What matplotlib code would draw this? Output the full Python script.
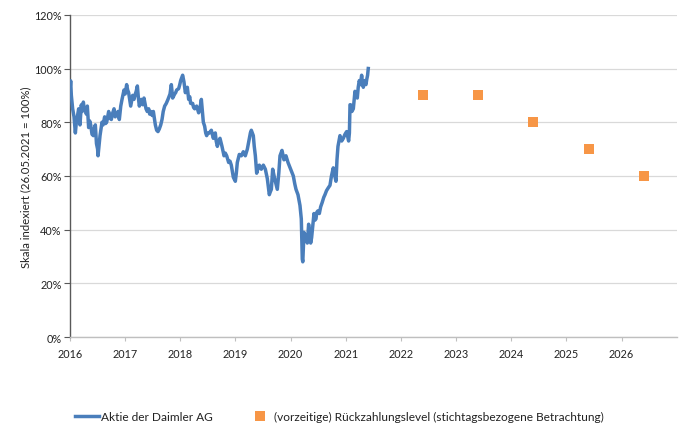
import matplotlib
matplotlib.use("Agg")
import matplotlib.pyplot as plt
from matplotlib.ticker import FuncFormatter

# Daimler share, indexed (26.05.2021 = 100%), decimal years
stock_years = [
    2016.000, 2016.012, 2016.024, 2016.048, 2016.073, 2016.097, 2016.115, 2016.133, 2016.157, 2016.181,
    2016.205, 2016.222, 2016.242, 2016.260, 2016.278, 2016.296, 2016.314, 2016.338, 2016.356, 2016.375,
    2016.399, 2016.423, 2016.440, 2016.459, 2016.480, 2016.500, 2016.508, 2016.525, 2016.544, 2016.580,
    2016.600, 2016.628, 2016.645, 2016.665, 2016.701, 2016.725, 2016.749, 2016.775, 2016.798, 2016.820,
    2016.846, 2016.870, 2016.894, 2016.920, 2016.943, 2016.979, 2017.000, 2017.027, 2017.045, 2017.063,
    2017.100, 2017.118, 2017.136, 2017.160, 2017.184, 2017.200, 2017.221, 2017.240, 2017.257, 2017.275,
    2017.293, 2017.320, 2017.341, 2017.378, 2017.400, 2017.426, 2017.445, 2017.462, 2017.490, 2017.511,
    2017.547, 2017.571, 2017.595, 2017.619, 2017.645, 2017.668, 2017.690, 2017.716, 2017.745, 2017.776,
    2017.813, 2017.837, 2017.861, 2017.897, 2017.915, 2017.934, 2017.970, 2017.990, 2018.006, 2018.042,
    2018.066, 2018.091, 2018.110, 2018.127, 2018.151, 2018.170, 2018.187, 2018.224, 2018.240, 2018.260,
    2018.296, 2018.332, 2018.355, 2018.381, 2018.417, 2018.441, 2018.460, 2018.477, 2018.502, 2018.526,
    2018.562, 2018.580, 2018.598, 2018.634, 2018.650, 2018.671, 2018.695, 2018.719, 2018.755, 2018.792,
    2018.815, 2018.840, 2018.876, 2018.900, 2018.924, 2018.961, 2018.997, 2019.015, 2019.033, 2019.069,
    2019.106, 2019.142, 2019.178, 2019.215, 2019.251, 2019.270, 2019.287, 2019.305, 2019.323, 2019.340,
    2019.360, 2019.384, 2019.410, 2019.432, 2019.468, 2019.505, 2019.541, 2019.577, 2019.595, 2019.613,
    2019.630, 2019.650, 2019.674, 2019.710, 2019.735, 2019.758, 2019.785, 2019.807, 2019.843, 2019.879,
    2019.915, 2019.952, 2020.000, 2020.048, 2020.075, 2020.097, 2020.133, 2020.169, 2020.193, 2020.203,
    2020.211, 2020.220, 2020.230, 2020.242, 2020.260, 2020.278, 2020.290, 2020.302, 2020.326, 2020.345,
    2020.363, 2020.380, 2020.399, 2020.423, 2020.440, 2020.459, 2020.475, 2020.495, 2020.520, 2020.544,
    2020.570, 2020.600, 2020.622, 2020.650, 2020.680, 2020.713, 2020.740, 2020.773, 2020.800, 2020.822,
    2020.840, 2020.858, 2020.894, 2020.925, 2020.955, 2020.985, 2021.015, 2021.035, 2021.051, 2021.065,
    2021.076, 2021.087, 2021.110, 2021.136, 2021.166, 2021.190, 2021.208, 2021.225, 2021.244, 2021.265,
    2021.287, 2021.300, 2021.317, 2021.340, 2021.365, 2021.380, 2021.395, 2021.407,
]
stock_values = [
    92.0, 95.4, 90.0, 85.0, 82.0, 76.0, 80.0, 82.0, 85.0, 79.0,
    86.5, 84.0, 87.5, 84.5, 85.0, 83.0, 86.0, 78.0, 80.5, 79.0,
    75.5, 75.0, 77.5, 79.0, 72.0, 70.0, 67.5, 71.0, 75.0, 80.0,
    79.0, 82.0, 79.5, 80.0, 84.0, 81.5, 81.0, 83.5, 85.0, 82.0,
    83.0, 84.0, 81.0, 86.0, 88.5, 92.0, 90.5, 94.0, 92.0, 91.0,
    86.0, 88.0, 90.0, 88.5, 90.5, 91.5, 93.5, 89.0, 86.0, 87.5,
    88.5, 86.5, 89.0, 85.0, 84.0, 85.0, 83.0, 84.0, 82.5, 84.0,
    79.0, 77.0, 76.5, 77.5, 79.0, 81.0, 84.0, 86.0, 87.0, 88.5,
    90.5, 94.0, 89.0, 90.5, 91.0, 92.0, 92.5, 94.0, 95.5, 97.5,
    95.0, 91.0, 92.0, 93.0, 88.5, 89.5, 87.0, 87.0, 85.5, 85.0,
    86.0, 83.5, 85.0, 88.5, 80.0, 78.5, 76.0, 75.0, 76.0, 76.0,
    77.0, 75.5, 74.0, 76.0, 73.0, 71.0, 73.0, 74.0, 71.0, 67.5,
    68.5, 67.5, 65.0, 65.5, 64.0, 59.5, 58.0, 61.0, 65.0, 68.0,
    67.5, 69.0, 67.5, 70.0, 74.0, 76.0, 77.0, 76.0, 75.0, 71.0,
    67.5, 61.0, 63.0, 64.0, 62.5, 64.0, 62.5, 59.0, 56.0, 53.0,
    54.0, 55.0, 62.5, 59.0, 57.0, 55.0, 61.0, 67.5, 69.5, 66.0,
    67.5, 65.0, 62.5, 60.0, 57.0, 55.0, 53.0, 49.0, 44.0, 36.0,
    29.0, 28.0, 33.0, 39.0, 37.5, 38.0, 36.0, 35.0, 42.0, 38.0,
    35.0, 37.0, 41.0, 46.0, 43.5, 44.0, 46.5, 47.0, 46.0, 48.5,
    50.0, 52.0, 53.0, 54.5, 55.5, 56.5, 60.0, 63.0, 60.0, 58.0,
    66.0, 71.0, 75.0, 73.0, 74.0, 75.5, 76.5, 74.5, 73.0, 76.0,
    86.5, 86.5, 84.0, 85.0, 91.5, 90.0, 89.0, 93.0, 95.5, 94.0,
    97.5, 95.0, 93.0, 95.5, 94.0, 96.0, 97.5, 100.0,
]

# Early-redemption levels (valuation dates)
level_years = [2022.40, 2023.40, 2024.40, 2025.40, 2026.40]
level_values = [90, 90, 80, 70, 60]

year_ticks = [2016, 2017, 2018, 2019, 2020, 2021, 2022, 2023, 2024, 2025, 2026]
pct_ticks = [0, 20, 40, 60, 80, 100, 120]

plt.rcParams['font.family'] = ['Lato', 'DejaVu Sans']

fig = plt.figure(figsize=(6.85, 4.27), dpi=100)
ax = fig.add_axes([0.1022, 0.2084, 0.8858, 0.7546])

ax.plot(stock_years, stock_values, color='#4A7EBB', lw=2.5, solid_joinstyle='round',
        label='Aktie der Daimler AG', zorder=3)
ax.plot(level_years, level_values, ls='none', marker='s', markersize=7.2,
        color='#F79646', markeredgewidth=0,
        label='(vorzeitige) Rückzahlungslevel (stichtagsbezogene Betrachtung)', zorder=4)

ax.set_xlim(2016, 2027)
ax.set_ylim(0, 120)
ax.set_xticks(year_ticks)
ax.set_xticklabels([str(y) for y in year_ticks])
ax.set_yticks(pct_ticks)
ax.yaxis.set_major_formatter(FuncFormatter(lambda v, p: f"{int(v)}%"))

ax.grid(axis='y', color='#D9D9D9', lw=0.9)
ax.set_axisbelow(True)
for s in ['top', 'right']:
    ax.spines[s].set_visible(False)
ax.spines['left'].set_color('#595959')
ax.spines['left'].set_linewidth(1.0)
ax.spines['bottom'].set_color('#BFBFBF')
ax.spines['bottom'].set_linewidth(1.0)
ax.tick_params(axis='y', length=4, width=0.8, color='#595959', labelsize=7.8, labelcolor='#222222', pad=2)
ax.tick_params(axis='x', length=3, width=0.8, color='#BFBFBF', labelsize=7.8, labelcolor='#222222', pad=5)

ax.set_ylabel('Skala indexiert (26.05.2021 = 100%)', fontsize=8.2, color='#222222', labelpad=2)

fig.legend(loc='center left', bbox_to_anchor=(0.1095, 0.022), ncol=2, frameon=False,
           fontsize=8.6, handlelength=2.0, handletextpad=0.15, columnspacing=3.0,
           borderpad=0, borderaxespad=0, labelcolor='#222222')

fig.savefig('out.png', dpi=100)
